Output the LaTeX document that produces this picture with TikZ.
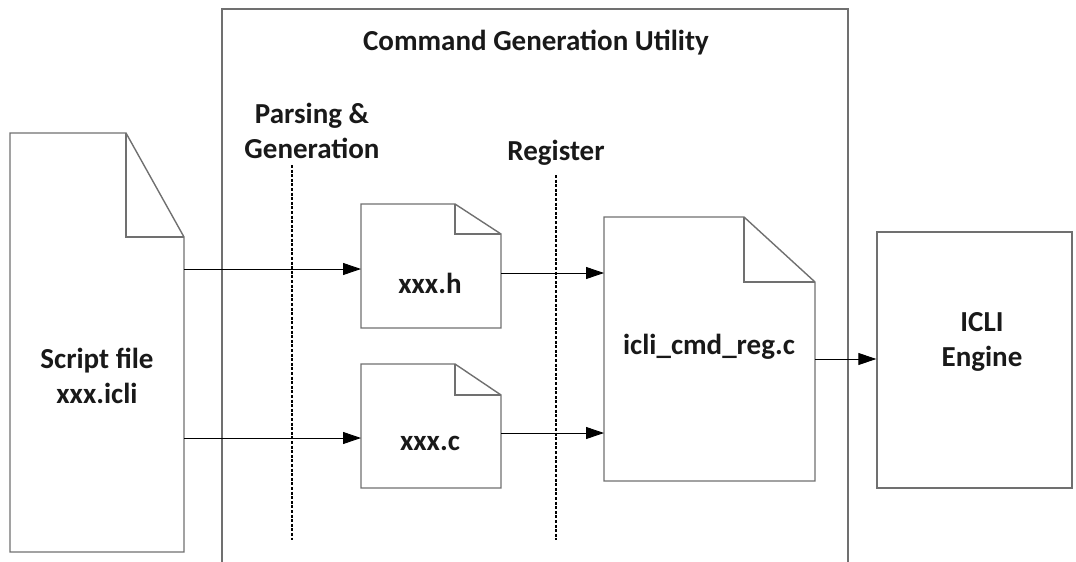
\documentclass[tikz,border=0pt]{standalone}
\usepackage{fontspec}
\setmainfont{Carlito}
\usetikzlibrary{arrows.meta}
\definecolor{boxgray}{HTML}{707070}
\tikzset{
  outline/.style={draw=boxgray, line width=1.4pt, line join=miter},
  lbl/.style={font=\bfseries\fontsize{29}{35}\selectfont, align=center, inner sep=0pt, text=black!90},
  conn/.style={draw=black, line width=0.9pt, -{Triangle[length=18pt,width=12pt]}},
  divider/.style={draw=black, line width=1.1pt, dash pattern=on 3pt off 1.6pt},
}
\begin{document}
\begin{tikzpicture}[x=1pt,y=-1pt]
\useasboundingbox (0,0) rectangle (1076,562);
\clip (0,0) rectangle (1076,562);
% outer utility box
\coordinate (ubnw) at (222,9);
\coordinate (ubne) at (848,9);
\draw[outline] (222,600) -- (ubnw) -- (ubne) -- (848,600);
\node[lbl] (title) at (536,43) {Command Generation Utility};
% script file
\coordinate (s1) at (10,133); \coordinate (s2) at (126,133); \coordinate (s3) at (184,237);
\coordinate (s4) at (184,552); \coordinate (s5) at (10,552);
\draw[outline] (s1) -- (s2) -- (s3) -- (s4) -- (s5) -- cycle;
\draw[outline] (s2) -- (126,237) -- (s3);
\node[lbl] (script) at (97,376) {Script file\\xxx.icli};
% xxx.h
\coordinate (h1) at (361,204); \coordinate (h2) at (455,204); \coordinate (h3) at (501,234);
\coordinate (h4) at (501,328); \coordinate (h5) at (361,328);
\draw[outline] (h1) -- (h2) -- (h3) -- (h4) -- (h5) -- cycle;
\draw[outline] (h2) -- (455,234) -- (h3);
\node[lbl] (xh) at (430,283) {xxx.h};
% xxx.c
\coordinate (c1) at (361,364); \coordinate (c2) at (455,364); \coordinate (c3) at (501,395);
\coordinate (c4) at (501,488); \coordinate (c5) at (361,488);
\draw[outline] (c1) -- (c2) -- (c3) -- (c4) -- (c5) -- cycle;
\draw[outline] (c2) -- (455,395) -- (c3);
\node[lbl] (xc) at (430,443) {xxx.c};
% icli_cmd_reg.c
\coordinate (r1) at (604,217); \coordinate (r2) at (744,217); \coordinate (r3) at (815,282);
\coordinate (r4) at (815,481); \coordinate (r5) at (604,481);
\draw[outline] (r1) -- (r2) -- (r3) -- (r4) -- (r5) -- cycle;
\draw[outline] (r2) -- (744,282) -- (r3);
\node[lbl] (reg) at (709,347) {icli\_cmd\_reg.c};
% ICLI engine
\node[outline, minimum width=195pt, minimum height=256pt, inner sep=0pt] (engbox) at (974.5,360) {};
\node[lbl] (eng) at (982,342) {ICLI\\Engine};
% phase labels and dividers
\node[lbl] (parse) at (312,131) {Parsing \&\\Generation};
\node[lbl] (regist) at (556,153) {Register};
\coordinate (d1t) at (292,165); \coordinate (d1b) at (292,540);
\coordinate (d2t) at (556,175); \coordinate (d2b) at (556,540);
\draw[divider] (d1t) -- (d1b);
\draw[divider] (d2t) -- (d2b);
% connectors
\coordinate (sa) at (184,269); \coordinate (ha) at (361,269);
\coordinate (sb) at (184,438); \coordinate (cb) at (361,438);
\draw[conn] (sa) -- (ha);
\draw[conn] (sb) -- (cb);
\coordinate (ho) at (501,273); \coordinate (ri1) at (604,273);
\coordinate (co) at (501,433); \coordinate (ri2) at (604,433);
\draw[conn] (ho) -- (ri1);
\draw[conn] (co) -- (ri2);
\coordinate (ro) at (815,359);
\draw[conn] (ro) -- (engbox.west |- ro);
\end{tikzpicture}
\end{document}
